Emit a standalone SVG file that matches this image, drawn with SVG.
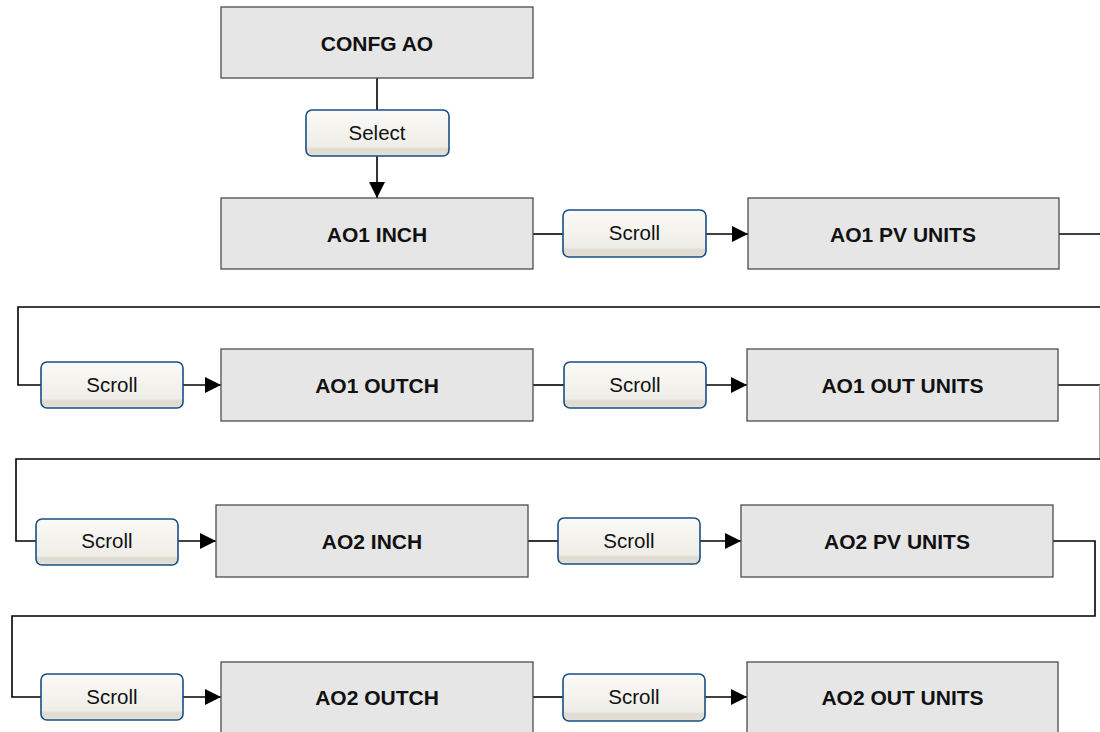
<svg xmlns="http://www.w3.org/2000/svg" width="1100" height="732" viewBox="0 0 1100 732">
<defs>
<linearGradient id="btn" x1="0" y1="0" x2="0" y2="1">
<stop offset="0" stop-color="#fbfaf7"/>
<stop offset="0.8" stop-color="#efede7"/>
<stop offset="0.85" stop-color="#dedad0"/>
<stop offset="1" stop-color="#e4e1d8"/>
</linearGradient>
<marker id="arr" viewBox="0 0 16 16" refX="16" refY="8" markerWidth="16" markerHeight="16" orient="auto" markerUnits="userSpaceOnUse">
<path d="M0,0 L16,8 L0,16 Z" fill="#000"/>
</marker>
</defs>
<style>
.node rect{fill:#e6e6e6;stroke:#4d4d4d;stroke-width:1.3}
.node text{font-family:"Liberation Sans",Arial,sans-serif;font-weight:bold;font-size:21px;fill:#111;text-anchor:middle;dominant-baseline:central}
.btn rect{fill:url(#btn);stroke:#174f86;stroke-width:1.6}
.btn text{font-family:"Liberation Sans",Arial,sans-serif;font-size:20.5px;fill:#111;text-anchor:middle;dominant-baseline:central}
.conn path{fill:none;stroke:#000;stroke-width:1.6}
.conn path.a{marker-end:url(#arr)}
.conn path.g{stroke:#aaa;stroke-width:1}
</style>
<rect width="1100" height="732" fill="#fff"/>
<g id="connectors" class="conn">
<path d="M377,78 V110"/>
<path class="a" d="M377,156 V198"/>
<path d="M533,234 H563"/>
<path class="a" d="M706,234 H748"/>
<path d="M1059,234 H1100"/>
<path d="M1100,307 H18 V385 H41"/>
<path class="a" d="M183,385 H221"/>
<path d="M533,385 H564"/>
<path class="a" d="M706,385 H747"/>
<path d="M1058,385 H1100"/>
<path class="g" d="M1099.5,385 V459"/>
<path d="M1100,459 H16 V541 H36"/>
<path class="a" d="M178,541 H216"/>
<path d="M528,541 H558"/>
<path class="a" d="M700,541 H741"/>
<path d="M1053,541 H1095 V616 H12 V697 H41"/>
<path class="a" d="M183,697 H221"/>
<path d="M533,697 H563"/>
<path class="a" d="M705,697 H747"/>
</g>
<g id="n_confg" class="node"><rect x="221" y="7" width="312" height="71"/><text x="377" y="43">CONFG AO</text></g>
<g id="b_select" class="btn"><rect x="306" y="110" width="143" height="46" rx="6"/><text x="377" y="132">Select</text></g>
<g id="n_ao1inch" class="node"><rect x="221" y="198" width="312" height="71"/><text x="377" y="234">AO1 INCH</text></g>
<g id="b_s1" class="btn"><rect x="563" y="210" width="143" height="47" rx="6"/><text x="634.5" y="232">Scroll</text></g>
<g id="n_ao1pv" class="node"><rect x="748" y="198" width="311" height="71"/><text x="903" y="234">AO1 PV UNITS</text></g>
<g id="b_s2" class="btn"><rect x="41" y="362" width="142" height="46" rx="6"/><text x="112" y="384">Scroll</text></g>
<g id="n_ao1outch" class="node"><rect x="221" y="349" width="312" height="72"/><text x="377" y="385">AO1 OUTCH</text></g>
<g id="b_s3" class="btn"><rect x="564" y="362" width="142" height="46" rx="6"/><text x="635" y="384">Scroll</text></g>
<g id="n_ao1outu" class="node"><rect x="747" y="349" width="311" height="72"/><text x="902.5" y="385">AO1 OUT UNITS</text></g>
<g id="b_s4" class="btn"><rect x="36" y="519" width="142" height="46" rx="6"/><text x="107" y="540">Scroll</text></g>
<g id="n_ao2inch" class="node"><rect x="216" y="505" width="312" height="72"/><text x="372" y="541">AO2 INCH</text></g>
<g id="b_s5" class="btn"><rect x="558" y="518" width="142" height="46" rx="6"/><text x="629" y="540">Scroll</text></g>
<g id="n_ao2pv" class="node"><rect x="741" y="505" width="312" height="72"/><text x="897" y="541">AO2 PV UNITS</text></g>
<g id="b_s6" class="btn"><rect x="41" y="674" width="142" height="46" rx="6"/><text x="112" y="696">Scroll</text></g>
<g id="n_ao2outch" class="node"><rect x="221" y="662" width="312" height="72"/><text x="377" y="697">AO2 OUTCH</text></g>
<g id="b_s7" class="btn"><rect x="563" y="674" width="142" height="47" rx="6"/><text x="634" y="696">Scroll</text></g>
<g id="n_ao2outu" class="node"><rect x="747" y="662" width="311" height="72"/><text x="902.5" y="697">AO2 OUT UNITS</text></g>
</svg>
